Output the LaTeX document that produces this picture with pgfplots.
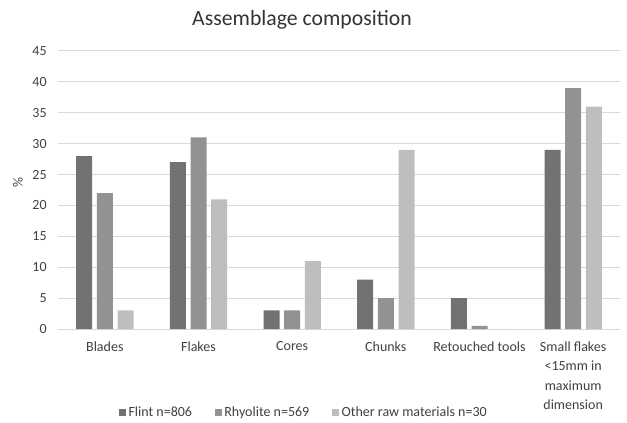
\documentclass[border=0pt]{standalone}
\usepackage{fontspec}
\setmainfont{Carlito}
\usepackage{pgfplots}
\pgfplotsset{compat=1.18}
\definecolor{flint}{HTML}{727272}
\definecolor{rhyo}{HTML}{929292}
\definecolor{other}{HTML}{BEBEBE}
\definecolor{gridc}{HTML}{D9D9D9}
\definecolor{txt}{HTML}{404040}
\begin{document}
\begin{tikzpicture}[x=1pt,y=1pt]
\useasboundingbox (0,0) rectangle (470.25,316.5);
\node[font=\fontsize{16.3}{19}\selectfont, text=black!80] at (226.5,301.5) {Assemblage composition};
\node[font=\fontsize{10.5}{12}\selectfont, rotate=90, text=txt] at (13.5,180) {\%};
\begin{axis}[
  at={(43.5pt,69.75pt)}, anchor=south west,
  scale only axis, width=421.5pt, height=208.5pt,
  xmin=-0.5, xmax=5.5, ymin=0, ymax=45,
  ytick={0,5,...,45},
  xtick={0,1,2,3,4,5},
  xticklabels={Blades, Flakes, Cores, Chunks, Retouched tools, {Small flakes\\<15mm in\\maximum\\dimension}},
  xticklabel style={align=center, font=\fontsize{10.5}{14.5}\selectfont, text=txt, anchor=north, yshift=-6pt},
  yticklabel style={font=\fontsize{10.5}{12}\selectfont, text=txt, xshift=-5pt},
  /pgf/number format/assume math mode=true,
  axis line style={draw=none},
  major tick length=0pt,
  ymajorgrids, grid style={gridc, line width=0.75pt},
  ybar=3.5pt, bar width=12pt,
  legend columns=3,
  legend style={at={(axis description cs:0.438,-0.302)}, anchor=center, draw=none, fill=none,
    inner sep=1pt, font=\fontsize{10.5}{12}\selectfont, text=txt,
    /tikz/every even column/.append style={column sep=15pt}},
  legend image code/.code={\fill[#1] (0pt,-2.6pt) rectangle (5.2pt,2.6pt);},
]
\addplot[fill=flint, draw=none] coordinates {(0,28) (1,27) (2,3) (3,8) (4,5) (5,29)};
\addplot[fill=rhyo, draw=none] coordinates {(0,22) (1,31) (2,3) (3,5) (4,0.5) (5,39)};
\addplot[fill=other, draw=none] coordinates {(0,3) (1,21) (2,11) (3,29) (4,0) (5,36)};
\legend{Flint n=806, Rhyolite n=569, Other raw materials n=30}
\end{axis}
\end{tikzpicture}
\end{document}
